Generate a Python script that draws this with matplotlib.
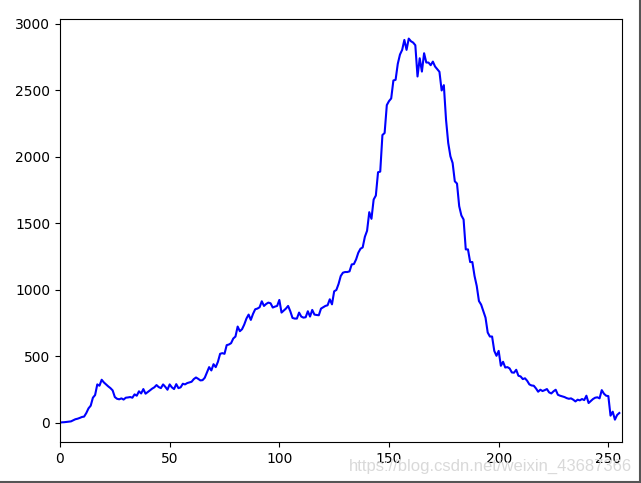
import matplotlib
matplotlib.use("Agg")
import matplotlib.pyplot as plt
from matplotlib.lines import Line2D

bins = list(range(256))
hist = [
    3, 5, 6, 8, 10, 12, 20, 28, 32, 38,
    45, 48, 75, 110, 130, 190, 210, 290, 280, 325,
    305, 290, 275, 262, 245, 195, 182, 178, 185, 176,
    190, 192, 195, 190, 215, 205, 238, 222, 255, 220,
    232, 245, 258, 268, 285, 270, 262, 290, 272, 250,
    290, 268, 255, 292, 262, 268, 295, 290, 300, 305,
    310, 330, 342, 332, 320, 322, 340, 380, 420, 395,
    442, 420, 460, 520, 525, 520, 585, 590, 600, 635,
    650, 725, 690, 705, 740, 785, 815, 775, 820, 855,
    860, 870, 915, 880, 895, 905, 900, 868, 875, 880,
    925, 830, 845, 860, 880, 840, 790, 785, 785, 830,
    800, 792, 795, 840, 800, 850, 815, 812, 810, 860,
    870, 880, 885, 930, 892, 990, 1000, 1045, 1105, 1130,
    1135, 1135, 1140, 1192, 1195, 1230, 1280, 1310, 1320, 1400,
    1445, 1585, 1535, 1680, 1710, 1885, 1890, 2165, 2180, 2390,
    2420, 2440, 2575, 2580, 2700, 2770, 2805, 2880, 2805, 2890,
    2870, 2860, 2840, 2605, 2742, 2642, 2780, 2710, 2710, 2690,
    2717, 2680, 2660, 2640, 2500, 2540, 2280, 2105, 2005, 1955,
    1817, 1800, 1630, 1560, 1530, 1305, 1305, 1210, 1210, 1105,
    1030, 917, 890, 842, 792, 680, 650, 650, 542, 505,
    542, 430, 460, 417, 420, 410, 380, 378, 400, 355,
    350, 330, 336, 317, 290, 282, 280, 260, 235, 250,
    240, 247, 255, 230, 222, 238, 250, 212, 205, 200,
    195, 187, 182, 185, 175, 162, 175, 170, 180, 172,
    205, 150, 165, 180, 190, 193, 185, 247, 220, 205,
    202, 55, 85, 25, 60, 75,
]
watermark = "https://blog.csdn.net/weixin_43687366"

fig = plt.figure(figsize=(6.41, 4.83), dpi=100)
ax = fig.add_axes([60 / 641, 41 / 483, 561.5 / 641, 423.5 / 483])
ax.plot(bins, hist, color="b", linewidth=1.5)
ax.set_xlim(0, 256)
ax.set_ylim(-143, 3041)

fig.text(632 / 641, 1 - 466 / 483, watermark, ha="right", va="center",
         fontsize=12, color="#d9d9d9", family="Liberation Sans")

fig.add_artist(Line2D([0, 1], [0.8 / 483, 0.8 / 483], transform=fig.transFigure,
                      color="#555555", linewidth=1.5))
fig.add_artist(Line2D([639.8 / 641, 639.8 / 641], [0, 1], transform=fig.transFigure,
                      color="#555555", linewidth=1.5))

fig.savefig("out.png", dpi=100)
